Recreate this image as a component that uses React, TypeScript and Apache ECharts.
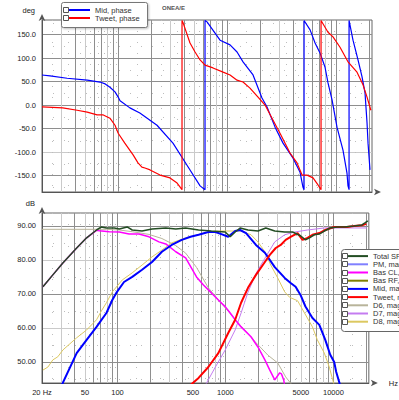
import React, { useEffect, useRef } from "react";
import * as echarts from "echarts";

// ---- Phase responses (frequency in Hz, phase in degrees) ----
const midPhaseHz = [20, 23.7, 34, 52, 68, 76, 84, 93.5, 100, 104, 128, 158, 227, 318, 428, 564, 626, 626, 653, 860, 1062, 1231, 1397, 1726, 2085, 2320, 2749, 3252, 4020, 4660, 4960, 5070, 5070, 5760, 6400, 7100, 7890, 8410, 9160, 10170, 11540, 12560, 12830, 13120, 13120, 14260, 15850, 17260, 18380, 19180, 19590, 20420];
const midPhaseDeg = [64, 62, 57, 53, 49, 45, 38, 28, 17, 9, -6, -17, -43, -81, -128, -172, -180, 180, 177, 138, 128, 113, 92, 64, 15, -4, -47, -81, -113, -143, -175, -180, 180, 160, 132, 111, 81, 47, 11, -47, -96, -145, -172, -180, 180, 138, 96, 60, 26, -38, -81, -138];

const tweetPhaseHz = [20, 31, 42, 52, 64, 73, 84, 93.5, 100, 115, 137, 152, 165, 176, 196, 242, 299, 347, 385, 385, 394, 456, 507, 564, 626, 741, 917, 1062, 1231, 1397, 1618, 1918, 2225, 2577, 3050, 3770, 4370, 4860, 5400, 6130, 6810, 7260, 7260, 8410, 9350, 10840, 12830, 15520, 17620, 19180, 20800];
const tweetPhaseDeg = [-4, -6, -11, -15, -21, -21, -28, -43, -60, -81, -106, -123, -132, -134, -138, -149, -155, -166, -180, 180, 175, 132, 113, 96, 85, 79, 70, 64, 53, 49, 36, 17, 0, -28, -60, -102, -123, -149, -149, -155, -170, -180, 180, 155, 145, 123, 92, 70, 43, 17, -11];

// ---- Magnitude responses (frequency in Hz, level in dB) ----
const totalHz = [20.4, 25.2, 31.2, 41.9, 51.8, 64, 71, 79, 93.5, 104, 123, 137, 169, 209, 280, 347, 428, 564, 741, 995, 1107, 1231, 1367, 1618, 2000, 2367, 2864, 3540, 4190, 4960, 5510, 6000, 6670, 7410, 8240, 9350, 10840, 12560, 15520, 18380, 19590, 20850];
const totalDb = [72.1, 75.6, 79.1, 83.5, 86.5, 88.8, 89.7, 89.4, 89.4, 89.1, 89.7, 88.8, 88.5, 89.1, 89.4, 89.1, 89.4, 88.8, 88.5, 88.2, 86.8, 88.2, 89.4, 88.8, 88.5, 89.4, 88.5, 88.2, 88.2, 87.1, 85.9, 86.5, 87.4, 87.6, 88.5, 89.4, 89.7, 89.7, 90.0, 90.3, 90.9, 91.5];

const basClHz = [20.4, 25.2, 31.2, 41.9, 51.8, 64, 68, 84, 104, 128, 158, 196, 242, 280, 347, 428, 485, 540, 626, 741, 860, 1000, 1107, 1231, 1397, 1726, 2000, 2320, 2577, 2864, 3184, 3300, 3467, 3560];
const basClDb = [72.1, 75.6, 79.1, 83.5, 86.5, 88.7, 88.6, 88.3, 88.2, 87.6, 87.6, 86.8, 85.3, 84.7, 82.4, 80.6, 77.6, 75, 72.6, 70.3, 68.2, 66.2, 64.4, 62.4, 60.3, 57.4, 54.4, 50.6, 47.6, 44.7, 46.8, 46.5, 44.7, 42.5];

const midMagHz = [30.5, 41.9, 51.8, 64, 79, 89.6, 97.5, 115, 137, 169, 209, 258, 318, 394, 475, 564, 695, 807, 917, 1062, 1231, 1367, 1552, 1918, 2320, 2864, 3540, 4020, 4467, 4960, 5510, 6400, 7410, 8410, 9350, 10170, 10610, 11540];
const midMagDb = [43.2, 52.6, 56.5, 60.3, 64.4, 68.2, 70.3, 73.5, 75, 77.1, 79.4, 82.4, 84.4, 85.9, 86.8, 87.4, 88.2, 88.2, 87.6, 86.8, 88.5, 88.8, 87.9, 84.4, 82.1, 77.9, 74.7, 73.2, 72.1, 69.7, 66.3, 62.9, 60.9, 56.5, 52.1, 50, 47.1, 43.2];

const tweetMagHz = [475, 564, 695, 860, 1062, 1231, 1397, 1618, 1918, 2320, 2577, 2926, 3252, 3614, 4020, 4660, 5180, 5760, 6400, 7410, 8410, 10170, 11540, 13390, 15520, 18380, 20200];
const tweetMagDb = [43.2, 45.3, 48.5, 52.6, 58.5, 62.4, 67.4, 71.8, 75.6, 79.4, 81.5, 83.5, 84.4, 85.9, 86.8, 87.9, 85.9, 86.5, 87.4, 87.9, 88.8, 89.7, 89.7, 89.7, 90.0, 90.2, 90.6];

const d6Hz = [20, 79, 104, 137, 196, 258, 347, 428, 540, 695, 954, 1397, 1876, 2472, 3050, 3614, 4190];
const d6Db = [89.0, 89.0, 88.8, 88.3, 87.5, 86.3, 84.2, 82, 77.8, 71.8, 66.6, 60.5, 56, 52, 49.7, 45.6, 43];

const d7Hz = [653, 807, 995, 1231, 1397, 1618, 1918, 2320, 2864, 3540, 4370, 5760, 8240, 13390, 20420];
const d7Db = [43.2, 48.5, 53.5, 59.4, 64.4, 70.5, 76, 80.5, 85.3, 87.4, 88.2, 88.8, 89.4, 89.4, 89.4];

const d8Hz = [20.4, 22.7, 25.2, 28, 31.2, 41.9, 51.8, 64, 71, 79, 89.6, 110.7, 137, 169, 209, 258, 318, 428, 564, 695, 860, 1130, 1397, 1726, 2000, 2320, 2630, 3050, 3540, 3934, 4660, 5400, 6400, 7100, 8240, 9160, 9750, 10170];
const d8Db = [47.6, 48.5, 50.6, 51.5, 53.5, 57.1, 59.4, 62.4, 65, 67.4, 70.6, 74.1, 76.2, 78.5, 80.9, 82.9, 85, 86.5, 87.4, 88.2, 88.5, 88.5, 88.5, 87.4, 85.3, 82.4, 78.5, 74.7, 70.6, 69, 68, 64.4, 60.3, 56.5, 52.6, 48.5, 45.3, 43.2];

// ---- Axis ticks ----
const freqGridHz = [20, 30, 40, 50, 60, 70, 80, 90, 100, 200, 300, 400, 500, 600, 700, 800, 900, 1000, 2000, 3000, 4000, 5000, 6000, 7000, 8000, 9000, 10000, 20000];
const freqMinorHz = [25, 35, 45, 55, 65, 75, 85, 95, 150, 250, 350, 450, 550, 650, 750, 850, 950, 1500, 2500, 3500, 4500, 5500, 6500, 7500, 8500, 9500, 15000];
const freqLabelHz = [20, 50, 100, 500, 1000, 5000, 10000];
const phaseTicks = [-150, -100, -50, 0, 50, 100, 150];
const phaseMinor = [-175, -125, -75, -25, 25, 75, 125, 175];
const dbTicks = [50, 60, 70, 80, 90];
const dbMinor = [45, 55, 65, 75, 85];

const phaseLegend = ["Mid, phase", "Tweet, phase"];
const magLegend = ["Total SPL", "PM, magnitude", "Bas CL, magnitude", "Bas RF, magnitude", "Mid, magnitude", "Tweet, magnitude", "D6, magnitude", "D7, magnitude", "D8, magnitude"];

const lg = (f: number) => Math.log10(f);
const X_MIN = lg(20);
const X_MAX = lg(21300);
const FONT = "Liberation Sans, Arial, sans-serif";
const FS = 7.5;
const DARK = "#8e8e8e";
const LIGHT = "#cacaca";

const pairs = (hz: number[], v: number[]) => hz.map((f, i) => [lg(f), v[i]]);

const freqShade = (f: number) => {
  const m = Math.round(f / Math.pow(10, Math.floor(lg(f) + 1e-9)));
  return m === 3 || m === 5 || m === 8 ? LIGHT : DARK;
};

const freqAxis = (gridIndex: number, labels: boolean) => ({
  type: "value",
  gridIndex,
  min: X_MIN,
  max: X_MAX,
  position: "bottom",
  name: labels ? "Hz" : "",
  nameLocation: "end",
  nameGap: 20,
  nameTextStyle: { fontSize: FS, color: "#222", fontFamily: FONT },
  axisLine: {
    show: true,
    onZero: false,
    lineStyle: { color: "#555", width: 1 },
    symbol: ["none", "arrow"],
    symbolSize: [5, 7],
    symbolOffset: [0, 9],
  },
  axisTick: { show: false, customValues: freqGridHz.map(lg) },
  axisLabel: {
    show: labels,
    customValues: freqLabelHz.map(lg),
    formatter: (v: number) => {
      const f = Math.round(Math.pow(10, v));
      return f === 20 ? "20 Hz" : String(f);
    },
    fontSize: FS,
    color: "#222",
    fontFamily: FONT,
    margin: 5,
  },
  splitLine: { show: true, lineStyle: { color: freqGridHz.map(freqShade), width: 1 } },
});

const freqMinorAxis = (gridIndex: number) => ({
  type: "value",
  gridIndex,
  min: X_MIN,
  max: X_MAX,
  position: "top",
  axisLine: { show: false, onZero: false },
  axisTick: { show: false, customValues: freqMinorHz.map(lg) },
  axisLabel: { show: false },
  splitLine: { show: true, lineStyle: { color: "#bdbdbd", width: 1, type: [1, 10] } },
});

const levelAxis = (
  gridIndex: number,
  min: number,
  max: number,
  ticks: number[],
  shades: string[],
  name: string,
  digits: number
) => ({
  type: "value",
  gridIndex,
  min,
  max,
  position: "left",
  name,
  nameLocation: "end",
  nameGap: 6,
  nameTextStyle: { fontSize: FS, color: "#222", fontFamily: FONT, align: "right", padding: [0, 7, 0, 0] },
  axisLine: {
    show: true,
    onZero: false,
    lineStyle: { color: "#555", width: 1 },
    symbol: ["none", "arrow"],
    symbolSize: [5, 7],
    symbolOffset: [0, 6],
  },
  axisTick: { show: false, customValues: ticks },
  axisLabel: {
    customValues: ticks,
    formatter: (v: number) => v.toFixed(digits),
    fontSize: FS,
    color: "#222",
    fontFamily: FONT,
    margin: 6,
  },
  splitLine: { show: true, lineStyle: { color: shades, width: 1 } },
});

const levelMinorAxis = (gridIndex: number, min: number, max: number, ticks: number[]) => ({
  type: "value",
  gridIndex,
  min,
  max,
  position: "right",
  axisLine: { show: false, onZero: false },
  axisTick: { show: false, customValues: ticks },
  axisLabel: { show: false },
  splitLine: { show: true, lineStyle: { color: "#bdbdbd", width: 1, type: [1, 10] } },
});

const curve = (
  name: string,
  hz: number[],
  v: number[],
  color: string,
  width: number,
  axis: number
) => ({
  type: "line",
  name,
  xAxisIndex: axis,
  yAxisIndex: axis,
  data: pairs(hz, v),
  color,
  showSymbol: false,
  symbol: "none",
  lineStyle: { color, width },
  emphasis: { disabled: true },
  silent: true,
});

const checkbox = (x: number, y: number, s: number) => ({
  type: "rect",
  z: 10,
  shape: { x, y, width: s, height: s },
  style: { fill: "#fff", stroke: "#555", lineWidth: 1 },
});

export default function App() {
  const ref = useRef<HTMLDivElement>(null);

  useEffect(() => {
    if (!ref.current) return;
    const chart = echarts.init(ref.current, undefined, { renderer: "svg" });

    const magRow0 = 256.1;
    const magStep = 8.2;

    chart.setOption({
      animation: false,
      backgroundColor: "#fff",
      textStyle: { fontFamily: FONT },
      grid: [
        { left: 42, top: 20, width: 330, height: 172, show: true, borderColor: "#666", borderWidth: 1 },
        { left: 42, top: 213, width: 330, height: 170, show: true, borderColor: "#666", borderWidth: 1 },
      ],
      xAxis: [freqAxis(0, false), freqAxis(1, true), freqMinorAxis(0), freqMinorAxis(1)],
      yAxis: [
        levelAxis(0, -185, 181, phaseTicks, [DARK, LIGHT, DARK, DARK, DARK, DARK, DARK], "deg", 1),
        levelAxis(1, 43.8, 93.8, dbTicks, [DARK, LIGHT, DARK, LIGHT, DARK], "dB", 2),
        levelMinorAxis(0, -185, 181, phaseMinor),
        levelMinorAxis(1, 43.8, 93.8, dbMinor),
      ],
      legend: [
        {
          data: phaseLegend,
          orient: "vertical",
          left: 69,
          top: 6,
          padding: 0,
          itemGap: 0,
          itemWidth: 21,
          itemHeight: 2,
          icon: "rect",
          selectedMode: false,
          z: 11,
          textStyle: { fontSize: FS, color: "#333", fontFamily: FONT, lineHeight: 8 },
        },
        {
          data: magLegend,
          orient: "vertical",
          left: 348,
          top: magRow0 - magStep / 2,
          padding: 0,
          itemGap: 0,
          itemWidth: 20,
          itemHeight: 2,
          icon: "rect",
          selectedMode: false,
          z: 11,
          textStyle: { fontSize: FS, color: "#333", fontFamily: FONT, lineHeight: magStep },
        },
      ],
      graphic: [
        {
          type: "rect",
          z: 9,
          shape: { x: 61.5, y: 2.5, width: 86, height: 25, r: 2 },
          style: {
            fill: "#fff",
            stroke: "#777",
            lineWidth: 1,
            shadowBlur: 2,
            shadowOffsetX: 1,
            shadowOffsetY: 1,
            shadowColor: "rgba(0,0,0,0.25)",
          },
        },
        checkbox(63.5, 7.5, 5),
        checkbox(63.5, 15.5, 5),
        {
          type: "rect",
          z: 9,
          shape: { x: 341.5, y: 249.5, width: 80, height: 82, r: 3 },
          style: { fill: "#fff", stroke: "#666", lineWidth: 1 },
        },
        ...magLegend.map((_, i) => checkbox(342.5, Math.round(magRow0 + i * magStep - 3) + 0.5, 5)),
        {
          type: "text",
          z: 9,
          x: 162,
          y: 5,
          style: { text: "ONEA/E", fontSize: 6, fontWeight: "bold", fill: "#555", fontFamily: FONT },
        },
      ],
      series: [
        curve("Mid, phase", midPhaseHz, midPhaseDeg, "#0000ff", 1.2, 0),
        curve("Tweet, phase", tweetPhaseHz, tweetPhaseDeg, "#ff0000", 1.2, 0),
        curve("D6, magnitude", d6Hz, d6Db, "#b8b49a", 1, 1),
        curve("D7, magnitude", d7Hz, d7Db, "#c47cf0", 1, 1),
        curve("D8, magnitude", d8Hz, d8Db, "#dcc860", 1, 1),
        curve("PM, magnitude", [], [], "#8080ff", 1, 1),
        curve("Bas RF, magnitude", [], [], "#808000", 1, 1),
        curve("Bas CL, magnitude", basClHz, basClDb, "#ff00ff", 1.5, 1),
        curve("Mid, magnitude", midMagHz, midMagDb, "#0000ff", 2, 1),
        curve("Tweet, magnitude", tweetMagHz, tweetMagDb, "#ff0000", 2, 1),
        curve("Total SPL", totalHz, totalDb, "#234d23", 1.5, 1),
      ],
    });

    return () => chart.dispose();
  }, []);

  return (
    <div
      ref={ref}
      style={{ position: "fixed", left: 0, top: 0, width: 399, height: 400, background: "#fff" }}
    />
  );
}
